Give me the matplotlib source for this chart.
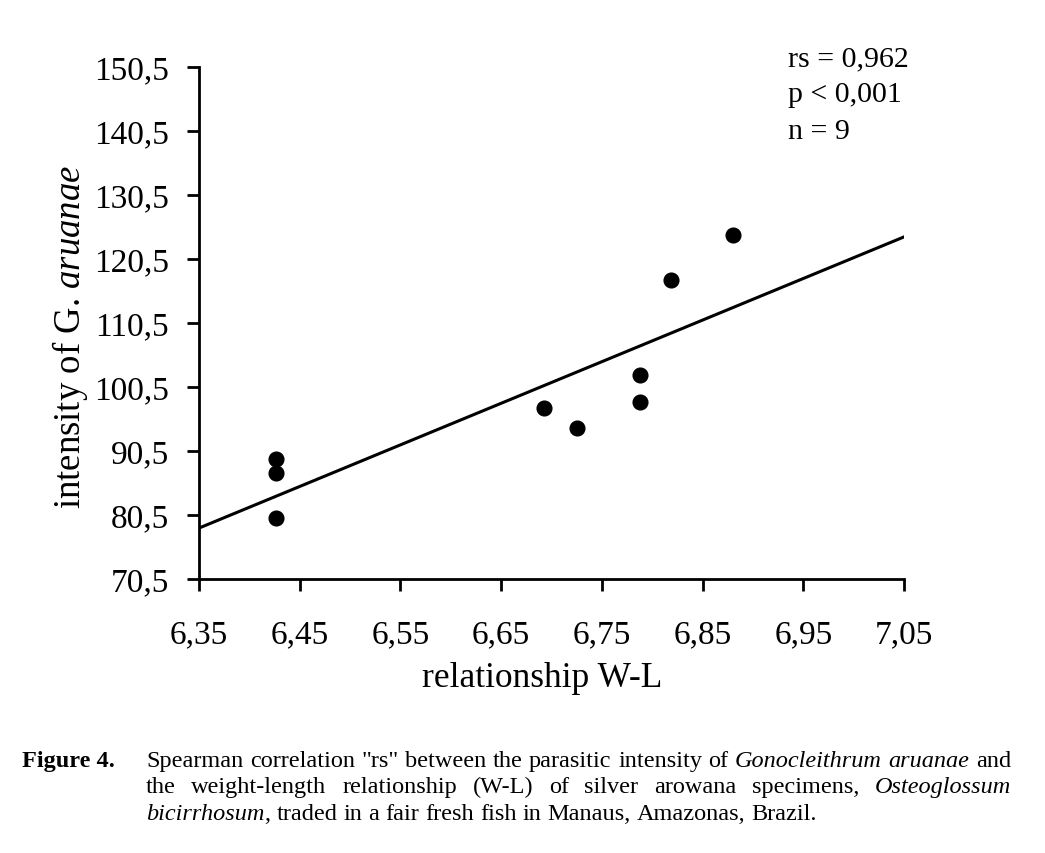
import matplotlib
matplotlib.use('Agg')

import numpy as np
import matplotlib.pyplot as plt

plt.rcParams['font.family'] = ['Liberation Serif', 'DejaVu Serif']
plt.rcParams['mathtext.fontset'] = 'custom'
plt.rcParams['mathtext.rm'] = 'Liberation Serif'
plt.rcParams['mathtext.it'] = 'Liberation Serif:italic'

# data
wl = [6.4265, 6.4265, 6.4265, 6.693, 6.725, 6.788, 6.788, 6.819, 6.8806]
intensity = [89.25, 87.0, 80.1, 97.2, 94.1, 102.3, 98.2, 117.2, 124.25]
x_ticks = [6.35, 6.45, 6.55, 6.65, 6.75, 6.85, 6.95, 7.05]
y_ticks = [70.5, 80.5, 90.5, 100.5, 110.5, 120.5, 130.5, 140.5, 150.5]
stats_lines = ['rs = 0,962', 'p < 0,001', 'n = 9']

W, H = 1045, 854
fig = plt.figure(figsize=(W / 100, H / 100), dpi=100)
ax = fig.add_axes([199 / W, 1 - 580 / H, 705 / W, 512 / H])

def fx(px):
    return px / W

def fy(py):
    return 1 - py / H

ax.scatter(wl, intensity, s=112, color='black', zorder=3, clip_on=False)

# least squares line over the full x range
slope, icpt = np.polyfit(wl, intensity, 1)
xl = np.array([x_ticks[0], x_ticks[-1]])
ax.plot(xl, slope * xl + icpt, color='black', lw=2.2)

ax.set_xlim(x_ticks[0], x_ticks[-1])
ax.set_ylim(y_ticks[0], y_ticks[-1])
ax.set_xticks(x_ticks)
ax.set_yticks(y_ticks)
ax.set_xticklabels([('%.2f' % v).replace('.', ',') for v in x_ticks])
ax.set_yticklabels([('%.1f' % v).replace('.', ',') for v in y_ticks])
for s in ['top', 'right']:
    ax.spines[s].set_visible(False)
for s in ['left', 'bottom']:
    ax.spines[s].set_linewidth(2)
ax.tick_params(axis='both', direction='out', width=2, length=8.5, labelsize=24)
ax.tick_params(axis='x', pad=20)
ax.tick_params(axis='y', pad=13)

fig.text(fx(542.5), fy(687), 'relationship W-L', fontsize=25.5,
         ha='center', va='baseline')
fig.text(fx(80), fy(337), r'intensity of G. $\mathit{aruanae}$', fontsize=26.5,
         rotation=90, rotation_mode='anchor', ha='center', va='baseline')

for i, line in enumerate(stats_lines):
    fig.text(fx(788), fy(66 + 36.5 * i), line, fontsize=21.5, ha='left', va='baseline')

# caption, justified by hand
fig.text(fx(22), fy(767), 'Figure 4.', fontsize=17.5, fontweight='bold', va='baseline')

cap_lines = [
    ([('Spearman', 'normal', 1), ('correlation', 'normal', 1), ('"rs"', 'normal', 1),
      ('between', 'normal', 1), ('the', 'normal', 1), ('parasitic', 'normal', 1),
      ('intensity', 'normal', 1), ('of', 'normal', 1), ('Gonocleithrum', 'italic', 1),
      ('aruanae', 'italic', 1), ('and', 'normal', 1)], 767, True),
    ([('the', 'normal', 1), ('weight-length', 'normal', 1), ('relationship', 'normal', 1),
      ('(W-L)', 'normal', 1), ('of', 'normal', 1), ('silver', 'normal', 1),
      ('arowana', 'normal', 1), ('specimens,', 'normal', 1), ('Osteoglossum', 'italic', 1)],
     793, True),
    ([('bicirrhosum', 'italic', 1), (',', 'normal', 0), ('traded', 'normal', 1),
      ('in', 'normal', 1), ('a', 'normal', 1), ('fair', 'normal', 1), ('fresh', 'normal', 1),
      ('fish', 'normal', 1), ('in', 'normal', 1), ('Manaus,', 'normal', 1),
      ('Amazonas,', 'normal', 1), ('Brazil.', 'normal', 1)], 820, False),
]

fig.canvas.draw()
renderer = fig.canvas.get_renderer()
x0, x1 = 146, 1011
cap_size = 17.5
space = 0.25 * cap_size * 100 / 72
for words, base, just in cap_lines:
    texts = []
    for w, st, _ in words:
        t = fig.text(0, fy(base), w, fontsize=cap_size, fontstyle=st, va='baseline')
        texts.append(t)
    widths = [t.get_window_extent(renderer).width for t in texts]
    ngaps = sum(g for _, _, g in words[1:])
    gap = (x1 - x0 - sum(widths)) / ngaps if just else space
    x = x0
    for k, (t, wd) in enumerate(zip(texts, widths)):
        if k > 0 and words[k][2]:
            x += gap
        t.set_x(fx(x))
        x += wd

plt.savefig('out.png', dpi=100)
plt.close(fig)
